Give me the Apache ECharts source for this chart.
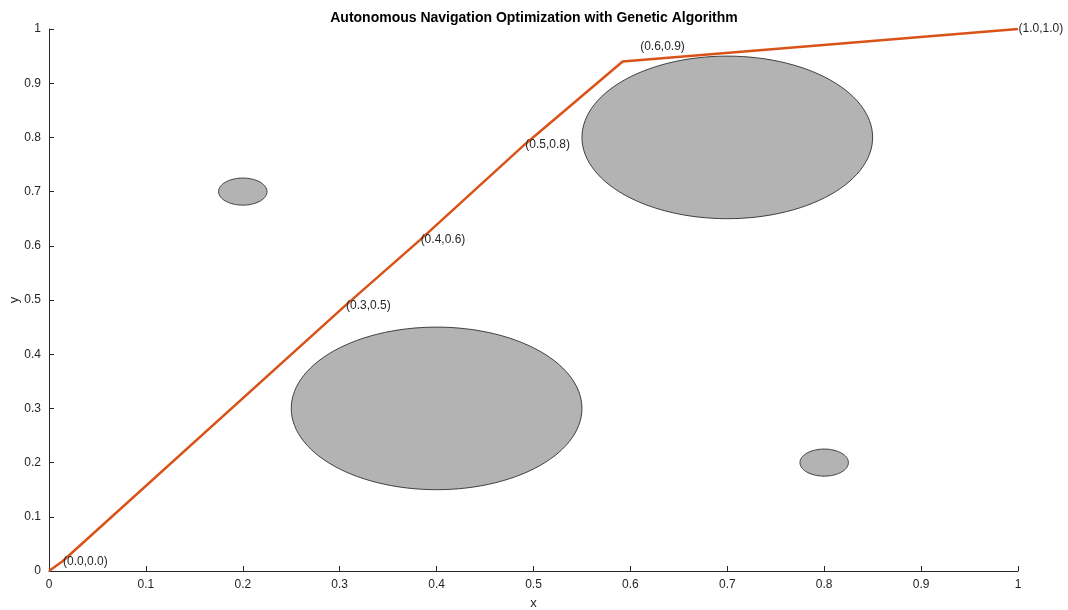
<!DOCTYPE html>
<html>
<head>
<meta charset="utf-8">
<script src="https://cdn.jsdelivr.net/npm/echarts@6/dist/echarts.min.js"></script>
<style>
  html, body { margin: 0; padding: 0; background: #fff; }
  #main { width: 1068px; height: 610px; }
</style>
</head>
<body>
<div id="main"></div>
<script>
// path waypoints
var pathX = [0, 0.014, 0.306, 0.383, 0.491, 0.592, 1.0];
var pathY = [0, 0.018, 0.490, 0.611, 0.787, 0.940, 1.0];
var pathLabels = ['', '(0.0,0.0)', '(0.3,0.5)', '(0.4,0.6)', '(0.5,0.8)', '(0.6,0.9)', '(1.0,1.0)'];

// circular obstacles
var obsX = [0.2, 0.4, 0.7, 0.8];
var obsY = [0.7, 0.3, 0.8, 0.2];
var obsR = [0.025, 0.15, 0.15, 0.025];

var tickLabels = ['0', '0.1', '0.2', '0.3', '0.4', '0.5', '0.6', '0.7', '0.8', '0.9', '1'];

var chart = echarts.init(document.getElementById('main'));
var font = 'Liberation Sans, Arial, sans-serif';

var pathData = [];
for (var i = 0; i < pathX.length; i++) {
  var lbl = { show: pathLabels[i] !== '' };
  if (i === 5) lbl.offset = [17, -15]; // this one sits above the kink
  pathData.push({ value: [pathX[i], pathY[i]], label: lbl });
}
var obsData = [];
for (var j = 0; j < obsX.length; j++) {
  obsData.push([obsX[j], obsY[j], obsR[j]]);
}

function tickFmt(v) {
  var k = Math.round(v * 10);
  return tickLabels[k] !== undefined ? tickLabels[k] : '';
}

function makeAxis(name, gap, margin, pos) {
  return {
    type: 'value', position: pos,
    min: 0, max: 1, interval: 0.1,
    name: name, nameLocation: 'middle', nameGap: gap, nameMoveOverlap: false,
    nameTextStyle: { color: '#262626', fontSize: 13, fontFamily: font },
    axisLine: { show: true, onZero: false, lineStyle: { color: '#262626', width: 1 } },
    axisTick: { show: true, inside: true, length: 5, lineStyle: { color: '#262626' } },
    axisLabel: { formatter: tickFmt, color: '#262626', fontSize: 12, fontFamily: font, margin: margin },
    splitLine: { show: false }
  };
}

var option = {
  animation: false,
  backgroundColor: '#ffffff',
  title: {
    text: 'Autonomous Navigation Optimization with Genetic Algorithm',
    left: 'center', top: 6,
    textStyle: { fontSize: 14, fontWeight: 'bold', color: '#000', fontFamily: font }
  },
  grid: { left: 49, right: 50, top: 29, bottom: 39, containLabel: false, outerBoundsMode: 'none' },
  xAxis: makeAxis('x', 26, 8, 'bottom'),
  yAxis: makeAxis('y', 28, 8, 'left'),
  series: [
    {
      name: 'obstacles',
      type: 'custom',
      data: obsData,
      z: 1,
      renderItem: function (params, api) {
        var cx = api.value(0), cy = api.value(1), r = api.value(2);
        var pts = [];
        for (var a = 0; a < 120; a++) {
          var t = a / 120 * Math.PI * 2;
          pts.push(api.coord([cx + r * Math.cos(t), cy + r * Math.sin(t)]));
        }
        return {
          type: 'polygon',
          shape: { points: pts },
          style: { fill: '#b3b3b3', stroke: '#1a1a1a', lineWidth: 0.8 }
        };
      }
    },
    {
      name: 'path',
      type: 'line',
      data: pathData,
      z: 3,
      symbol: 'circle',
      symbolSize: 1,
      itemStyle: { color: 'rgba(0,0,0,0)' },
      lineStyle: { color: '#D95319', width: 2.5 },
      label: {
        position: 'right', distance: 0,
        formatter: function (p) { return pathLabels[p.dataIndex]; },
        color: '#262626', fontSize: 12,
        fontFamily: font
      }
    }
  ]
};

chart.setOption(option);
</script>
</body>
</html>
